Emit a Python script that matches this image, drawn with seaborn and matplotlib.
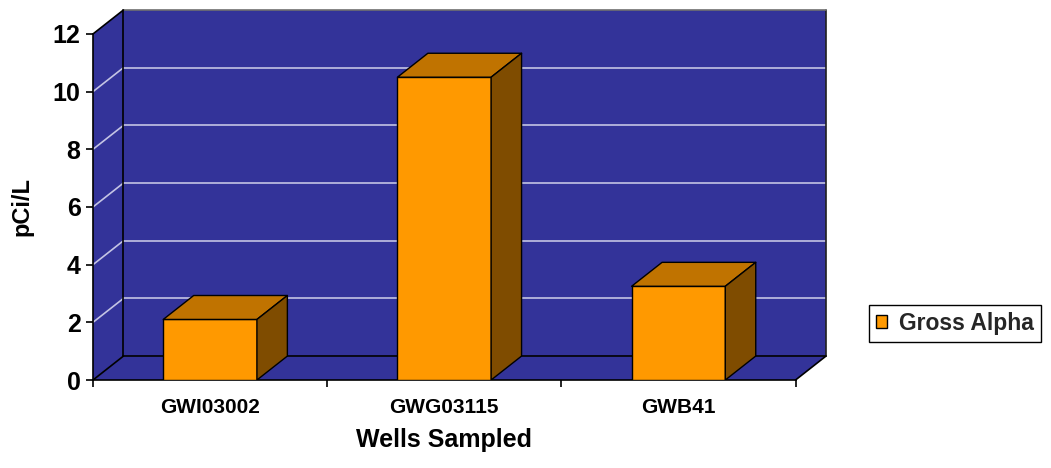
import numpy as np
import pandas as pd
import seaborn as sns
import matplotlib.pyplot as plt
from matplotlib.patches import Polygon, Patch
from matplotlib.lines import Line2D

# Data
wells = ["GWI03002", "GWG03115", "GWB41"]
gross_alpha = [2.1, 10.5, 3.25]
y_ticks = [0, 2, 4, 6, 8, 10, 12]
series_name = "Gross Alpha"

# Colours
WALL = "#333399"
GRID = "#C4C4E4"
FRONT = "#FF9900"
TOP = "#C07300"
SIDE = "#7F4C00"

sns.set_theme(style="white")
plt.rcParams['font.family'] = ['Liberation Sans', 'DejaVu Sans']
plt.rcParams['font.weight'] = 'bold'

fig = plt.figure(figsize=(10.51, 4.68), dpi=100)
L, R, B, T = 93 / 1051, 826 / 1051, 1 - 380 / 468, 1 - 10 / 468
ax = fig.add_axes([L, B, R - L, T - B])

# depth of the pseudo-3D box, in data units
DX, DY = 0.13, 0.83
YMAX = y_ticks[-1]
X0, X1 = -0.5, len(wells) - 0.5

df = pd.DataFrame({"Well": wells, "pCi/L": gross_alpha})
sns.barplot(data=df, x="Well", y="pCi/L", width=0.4, color=FRONT,
            saturation=1, edgecolor="black", linewidth=1, ax=ax)
bars = list(ax.patches)

ax.set_xlim(X0, X1 + DX)
ax.set_ylim(0, YMAX + DY)

# walls and floor
back = Polygon([(X0 + DX, DY), (X1 + DX, DY), (X1 + DX, YMAX + DY), (X0 + DX, YMAX + DY)],
               fc=WALL, ec="none", zorder=0.2)
left = Polygon([(X0, 0), (X0 + DX, DY), (X0 + DX, YMAX + DY), (X0, YMAX)],
               fc=WALL, ec="none", zorder=0.2)
floor = Polygon([(X0, 0), (X1, 0), (X1 + DX, DY), (X0 + DX, DY)],
                fc=WALL, ec="none", zorder=0.2)
for p in (back, left, floor):
    ax.add_patch(p)

# gridlines on the back and side walls
for v in y_ticks[1:-1]:
    ax.add_line(Line2D([X0 + DX, X1 + DX], [v + DY, v + DY], color=GRID, lw=1.2, zorder=0.4))
    ax.add_line(Line2D([X0, X0 + DX], [v, v + DY], color=GRID, lw=1.2, zorder=0.4))

# box edges
edges = [
    ([X0 + DX, X1 + DX], [DY, DY], "black"),
    ([X0 + DX, X0 + DX], [DY, YMAX + DY], "black"),
    ([X1 + DX, X1 + DX], [DY, YMAX + DY], "#202020"),
    ([X0 + DX, X1 + DX], [YMAX + DY, YMAX + DY], "#707070"),
    ([X0, X0 + DX], [YMAX, YMAX + DY], "black"),
    ([X0, X0 + DX], [0, DY], "black"),
    ([X1, X1 + DX], [0, DY], "black"),
]
for xs, ys, c in edges:
    ax.add_line(Line2D(xs, ys, color=c, lw=1.2, zorder=0.5, clip_on=False))

# 3D faces of the bars
for p in bars:
    x0, w, h = p.get_x(), p.get_width(), p.get_height()
    p.set_zorder(3)
    top = Polygon([(x0, h), (x0 + w, h), (x0 + w + DX, h + DY), (x0 + DX, h + DY)],
                  fc=TOP, ec="black", lw=1, zorder=3, joinstyle="round")
    side = Polygon([(x0 + w, 0), (x0 + w + DX, DY), (x0 + w + DX, h + DY), (x0 + w, h)],
                   fc=SIDE, ec="black", lw=1, zorder=3, joinstyle="round")
    ax.add_patch(top)
    ax.add_patch(side)

# axes
for s in ("top", "right"):
    ax.spines[s].set_visible(False)
for s in ("left", "bottom"):
    ax.spines[s].set_color("black")
    ax.spines[s].set_linewidth(1.2)
ax.spines["left"].set_bounds(0, YMAX)
ax.spines["bottom"].set_bounds(X0, X1)

ax.set_yticks(y_ticks)
ax.set_yticklabels([str(t) for t in y_ticks])
ax.tick_params(axis="y", left=True, length=5, width=1.2, color="black",
               direction="out", labelsize=18, pad=4, labelcolor="black")

ax.set_xticks(range(len(wells)))
ax.set_xticklabels(wells)
ax.set_xticks(np.arange(X0, X1 + 0.01, 1.0), minor=True)
ax.tick_params(axis="x", which="major", bottom=False, length=0, labelsize=15,
               pad=13, labelcolor="black")
ax.tick_params(axis="x", which="minor", bottom=True, length=5, width=1.2,
               color="black", direction="out")
for lab in ax.get_xticklabels() + ax.get_yticklabels():
    lab.set_fontweight("bold")

ax.set_xlabel("Wells Sampled", fontsize=18, fontweight="bold", color="black")
ax.xaxis.set_label_coords((444.5 - 93) / 733, -48 / 370)
ax.set_ylabel("pCi/L", fontsize=17, fontweight="bold", color="black")
ax.yaxis.set_label_coords(-60 / 733, 0.47)

handle = Patch(facecolor=FRONT, edgecolor="black", lw=1, label=series_name)
leg = fig.legend(handles=[handle], loc="center left",
                 bbox_to_anchor=(869 / 1051, 1 - 323.5 / 468),
                 frameon=True, fancybox=False, edgecolor="black", framealpha=1,
                 prop={"size": 16.5, "weight": "bold"},
                 handlelength=0.48, handleheight=0.48, handletextpad=0.5,
                 borderpad=0.32, borderaxespad=0)
leg.get_frame().set_linewidth(1)

fig.savefig("out.png", dpi=100, facecolor="white")
